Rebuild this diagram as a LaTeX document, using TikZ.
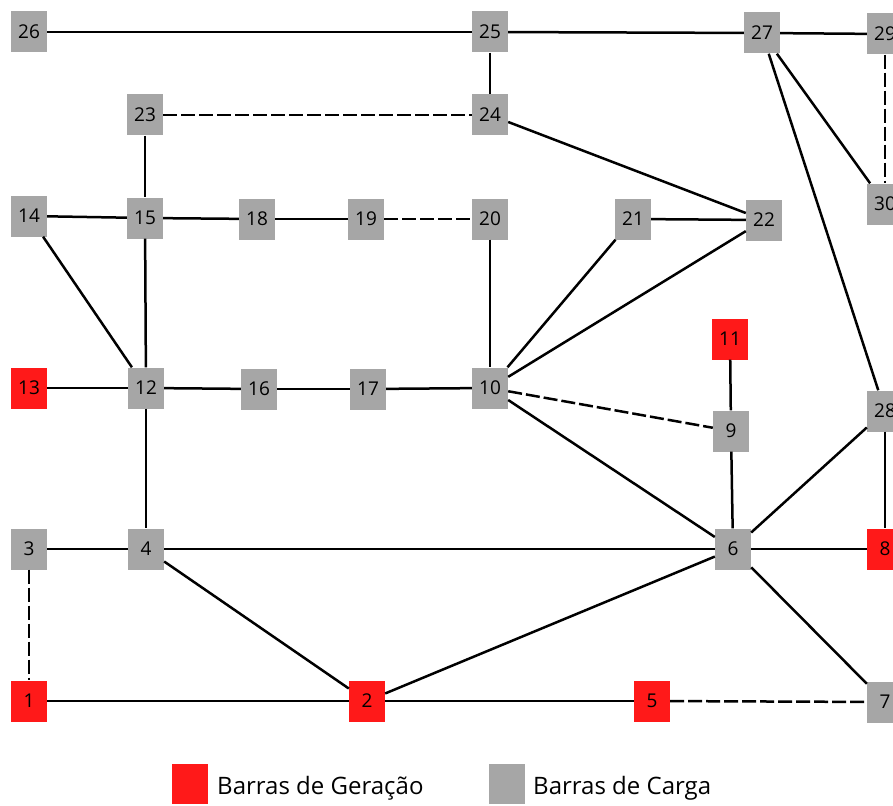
\documentclass[tikz,border=0pt]{standalone}
\usepackage{fontspec}
\setmainfont{Open Sans}
\definecolor{genred}{RGB}{255,25,25}
\definecolor{loadgray}{RGB}{166,166,166}
\begin{document}
\begin{tikzpicture}[x=1pt,y=-1pt,
  bus/.style={rectangle, minimum width=36pt, minimum height=41pt, inner sep=0pt, font=\fontsize{19}{19}\selectfont},
  gen/.style={bus, fill=genred},
  load/.style={bus, fill=loadgray},
  ln/.style={line width=2.5pt},
  dln/.style={ln, dash pattern=on 14pt off 4pt},
  legtxt/.style={anchor=west, inner sep=0pt, font=\fontsize{24}{24}\selectfont}]
\clip (0,0) rectangle (893,805);
\fill[white] (0,0) rectangle (893,805);
% nodes
\node[load] (n26) at (29,32) {26};
\node[load] (n25) at (490,32) {25};
\node[load] (n27) at (762,33) {27};
\node[load] (n29) at (885,34) {29};
\node[load] (n24) at (490,115) {24};
\node[load] (n23) at (145,115) {23};
\node[load] (n14) at (29,216) {14};
\node[load] (n15) at (145,218) {15};
\node[load] (n18) at (257,219) {18};
\node[load] (n19) at (366,219) {19};
\node[load] (n20) at (490,219) {20};
\node[load] (n21) at (633,219) {21};
\node[load] (n22) at (764,220) {22};
\node[load] (n30) at (885,204) {30};
\node[gen]  (n11) at (730,339) {11};
\node[load] (n10) at (490,388) {10};
\node[load] (n12) at (146,388) {12};
\node[gen]  (n13) at (29,388) {13};
\node[load] (n16) at (259,389) {16};
\node[load] (n17) at (368,389) {17};
\node[load] (n28) at (885,411) {28};
\node[load] (n9)  at (731,431) {9};
\node[load] (n6)  at (733,549) {6};
\node[gen]  (n8)  at (885,549) {8};
\node[load] (n7)  at (885,702) {7};
\node[load] (n3)  at (29,549) {3};
\node[load] (n4)  at (146,549) {4};
\node[gen]  (n1)  at (29,701) {1};
\node[gen]  (n2)  at (367,701) {2};
\node[gen]  (n5)  at (652,701) {5};
% lines
\draw[ln] (n26) -- (n25);
\draw[ln] (n25) -- (n27);
\draw[ln] (n27) -- (n29);
\draw[ln] (n25) -- (n24);
\draw[dln] (n23) -- (n24);
\draw[ln] (n24) -- (n22);
\draw[ln] (n27) -- (n30);
\draw[ln] (n27) -- (n28);
\draw[dln] (n29) -- (n30);
\draw[ln] (n23) -- (n15);
\draw[ln] (n14) -- (n15);
\draw[ln] (n15) -- (n18);
\draw[ln] (n18) -- (n19);
\draw[dln] (n19) -- (n20);
\draw[ln] (n14) -- (n12);
\draw[ln] (n15) -- (n12);
\draw[ln] (n20) -- (n10);
\draw[ln] (n21) -- (n10);
\draw[ln] (n22) -- (n10);
\draw[ln] (n21) -- (n22);
\draw[ln] (n13) -- (n12);
\draw[ln] (n12) -- (n16);
\draw[ln] (n16) -- (n17);
\draw[ln] (n17) -- (n10);
\draw[dln] (n10) -- (n9);
\draw[ln] (n10) -- (n6);
\draw[ln] (n11) -- (n9);
\draw[ln] (n9) -- (n6);
\draw[ln] (n28) -- (n6);
\draw[ln] (n28) -- (n8);
\draw[ln] (n6) -- (n8);
\draw[ln] (n12) -- (n4);
\draw[ln] (n3) -- (n4);
\draw[ln] (n4) -- (n6);
\draw[dln] (n3) -- (n1);
\draw[ln] (n4) -- (n2);
\draw[ln] (n2) -- (n6);
\draw[ln] (n1) -- (n2);
\draw[ln] (n2) -- (n5);
\draw[dln] (n5) -- (n7);
\draw[ln] (n6) -- (n7);
% legend
\node[rectangle, fill=genred, minimum width=36pt, minimum height=40pt, inner sep=0pt] (lgen) at (190,784) {};
\node[legtxt] (lgent) at (217,788) {Barras de Geração};
\node[rectangle, fill=loadgray, minimum width=36pt, minimum height=40pt, inner sep=0pt] (lload) at (507,784) {};
\node[legtxt] (lloadt) at (533,788) {Barras de Carga};
\end{tikzpicture}
\end{document}
